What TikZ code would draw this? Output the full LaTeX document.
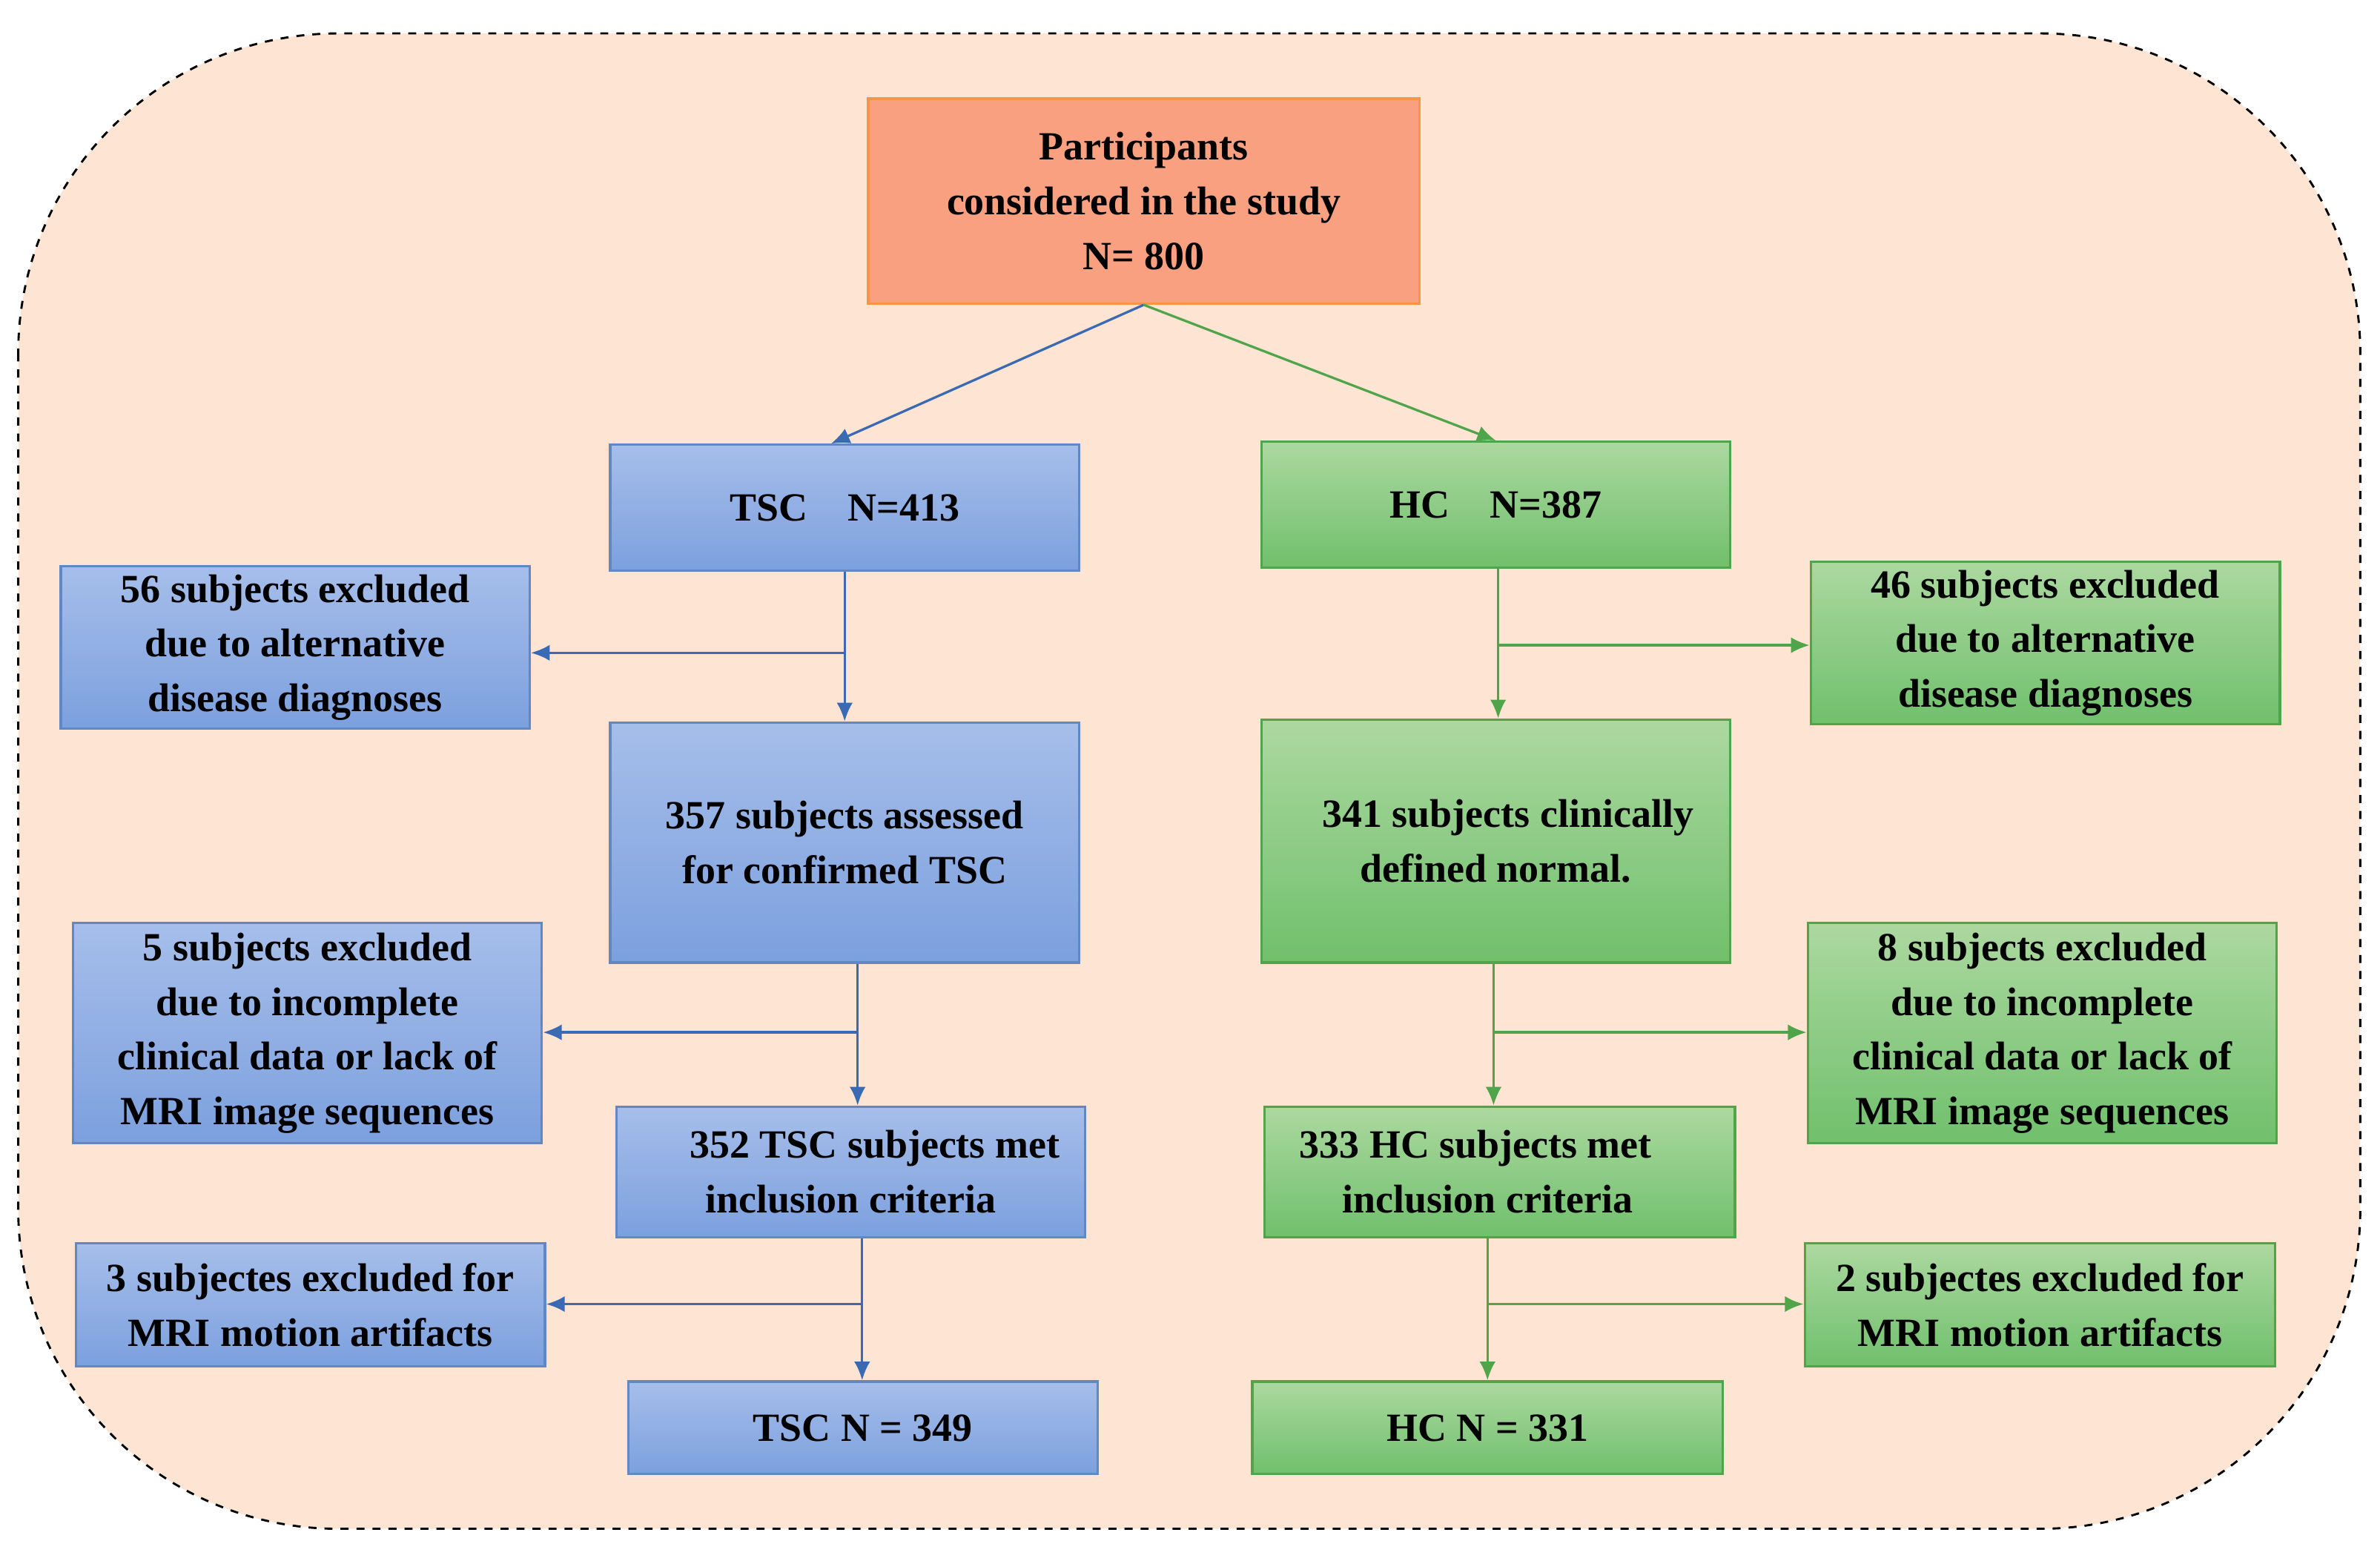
\documentclass[tikz,border=0pt]{standalone}
\usepackage{fontspec}
\setmainfont{Liberation Serif}
\usetikzlibrary{positioning, arrows.meta, backgrounds}
\definecolor{peach}{RGB}{253,228,211}
\definecolor{topFill}{RGB}{249,160,128}
\definecolor{topLine}{RGB}{244,150,70}
\definecolor{blueTop}{RGB}{166,190,234}
\definecolor{blueBot}{RGB}{124,160,222}
\definecolor{blueLine}{RGB}{58,106,180}
\definecolor{greenTop}{RGB}{172,216,160}
\definecolor{greenBot}{RGB}{112,192,108}
\definecolor{greenLine}{RGB}{80,165,75}
\tikzset{box/.style={shape=rectangle, align=center, inner sep=0pt, line width=0.9pt,
  font=\bfseries\fontsize{15}{20.5}\selectfont}}
\tikzset{tscBox/.style={box, draw=blueLine!80, top color=blueTop, bottom color=blueBot}}
\tikzset{hcBox/.style={box, draw=greenLine, top color=greenTop, bottom color=greenBot}}
\tikzset{tscArrow/.style={draw=blueLine, line width=0.9pt, -{Latex[length=7pt,width=6pt]}}}
\tikzset{hcArrow/.style={draw=greenLine, line width=0.9pt, -{Latex[length=7pt,width=6pt]}}}
\begin{document}
\begin{tikzpicture}[x=0.02cm, y=-0.02cm]
\useasboundingbox (0,0) rectangle (1568,1028);
\draw[dashed, line width=0.8pt, fill=peach, rounded corners=120pt] (12,22) rectangle (1555,1007);

% Top
\node[box, draw=topLine, fill=topFill, minimum width=363*0.02cm, minimum height=135*0.02cm] (all) at (753.5,132.5)
  {Participants\\considered in the study\\N= 800};

% TSC branch
\node[tscBox, minimum width=309*0.02cm, minimum height=83*0.02cm] (tsc) at (556.5,334.5) {TSC\quad N=413};
\node[tscBox, minimum width=309*0.02cm, minimum height=107*0.02cm] (tscEx1) at (194.5,426.5) {56 subjects excluded\\due to alternative\\disease diagnoses};
\node[tscBox, minimum width=309*0.02cm, minimum height=158*0.02cm] (tscAssess) at (556.5,555) {357 subjects assessed\\for confirmed TSC};
\node[tscBox, minimum width=309*0.02cm, minimum height=145*0.02cm] (tscEx2) at (202.5,680.5) {5 subjects excluded\\due to incomplete\\clinical data or lack of\\MRI image sequences};
\node[tscBox, minimum width=309*0.02cm, minimum height=86*0.02cm] (tscMet) at (560.5,772) {\hspace*{1.2em}352 TSC subjects met\\inclusion criteria};
\node[tscBox, minimum width=309*0.02cm, minimum height=81*0.02cm] (tscEx3) at (204.5,859.5) {3 subjectes excluded for\\MRI motion artifacts};
\node[tscBox, minimum width=309*0.02cm, minimum height=61*0.02cm] (tscEnd) at (568.5,940.5) {TSC N = 349};

% HC branch
\node[hcBox, minimum width=309*0.02cm, minimum height=83*0.02cm] (hc) at (985.5,332.5) {HC\quad N=387};
\node[hcBox, minimum width=309*0.02cm, minimum height=107*0.02cm] (hcEx1) at (1347.5,423.5) {46 subjects excluded\\due to alternative\\disease diagnoses};
\node[hcBox, minimum width=309*0.02cm, minimum height=160*0.02cm] (hcNormal) at (985.5,554) {\hspace*{0.6em}341 subjects clinically\\defined normal.};
\node[hcBox, minimum width=309*0.02cm, minimum height=145*0.02cm] (hcEx2) at (1345.5,680.5) {8 subjects excluded\\due to incomplete\\clinical data or lack of\\MRI image sequences};
\node[hcBox, minimum width=310*0.02cm, minimum height=86*0.02cm] (hcMet) at (988,772) {333 HC subjects met\hspace*{1.2em}\\inclusion criteria\hspace*{0.6em}};
\node[hcBox, minimum width=310*0.02cm, minimum height=81*0.02cm] (hcEx3) at (1344,859.5) {2 subjectes excluded for\\MRI motion artifacts};
\node[hcBox, minimum width=310*0.02cm, minimum height=61*0.02cm] (hcEnd) at (980,940.5) {HC N = 331};

% Split
\draw[tscArrow] (all.south) -- ([xshift=-9*0.02cm]tsc.north);
\draw[hcArrow] (all.south) -- (hc.north);

% TSC flow
\coordinate (tscB1) at (556,430);
\coordinate (tscB2) at (565,680);
\coordinate (tscB3) at (568,859);
\draw[tscArrow] (tsc.south) -- (tscAssess.north);
\draw[tscArrow] (tscB1) -- (tscEx1.east |- tscB1);
\draw[tscArrow] (tscAssess.south -| tscB2) -- (tscMet.north -| tscB2);
\draw[tscArrow] (tscB2) -- (tscEx2.east |- tscB2);
\draw[tscArrow] (tscMet.south -| tscB3) -- (tscEnd.north -| tscB3);
\draw[tscArrow] (tscB3) -- (tscEx3.east |- tscB3);

% HC flow
\coordinate (hcB1) at (987,425);
\coordinate (hcB2) at (984,680);
\coordinate (hcB3) at (980,859);
\draw[hcArrow] (hc.south -| hcB1) -- (hcNormal.north -| hcB1);
\draw[hcArrow] (hcB1) -- (hcEx1.west |- hcB1);
\draw[hcArrow] (hcNormal.south -| hcB2) -- (hcMet.north -| hcB2);
\draw[hcArrow] (hcB2) -- (hcEx2.west |- hcB2);
\draw[hcArrow] (hcMet.south -| hcB3) -- (hcEnd.north -| hcB3);
\draw[hcArrow] (hcB3) -- (hcEx3.west |- hcB3);
\end{tikzpicture}
\end{document}
